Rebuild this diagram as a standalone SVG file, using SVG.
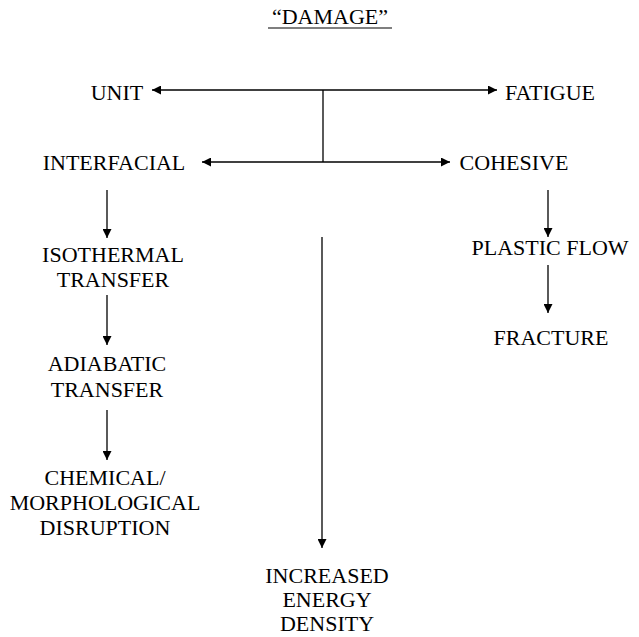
<svg xmlns="http://www.w3.org/2000/svg" width="639" height="637" viewBox="0 0 639 637">
<style>
text{font-family:"Liberation Serif","Times New Roman",serif;font-size:22px;fill:#000;text-anchor:middle}
.c line{stroke:#000;stroke-width:1.3;fill:none}
</style>
<defs>
<marker id="ah" viewBox="0 0 10 10" refX="10" refY="5" markerWidth="10" markerHeight="9" markerUnits="userSpaceOnUse" orient="auto">
<path d="M0,0 L10,5 L0,10 Z" fill="#000"/>
</marker>
<marker id="as" viewBox="0 0 10 10" refX="0" refY="5" markerWidth="10" markerHeight="9" markerUnits="userSpaceOnUse" orient="auto">
<path d="M10,0 L0,5 L10,10 Z" fill="#000"/>
</marker>
</defs>
<rect width="639" height="637" fill="#fff"/>
<g id="title"><text x="330" y="24">“DAMAGE”</text><line x1="268" y1="28" x2="392" y2="28" stroke="#000" stroke-width="1.2"/></g>
<g id="unit"><text x="117" y="100">UNIT</text></g>
<g id="fatigue"><text x="550" y="100">FATIGUE</text></g>
<g id="interfacial"><text x="114" y="170">INTERFACIAL</text></g>
<g id="cohesive"><text x="514" y="170">COHESIVE</text></g>
<g id="isothermal"><text x="113" y="262">ISOTHERMAL</text><text x="113" y="287">TRANSFER</text></g>
<g id="adiabatic"><text x="107" y="371">ADIABATIC</text><text x="107" y="397">TRANSFER</text></g>
<g id="chemical"><text x="105" y="485">CHEMICAL/</text><text x="105" y="510">MORPHOLOGICAL</text><text x="105" y="535">DISRUPTION</text></g>
<g id="plastic"><text x="550" y="255">PLASTIC FLOW</text></g>
<g id="fracture"><text x="551" y="345">FRACTURE</text></g>
<g id="energy"><text x="327" y="583">INCREASED</text><text x="327" y="607">ENERGY</text><text x="327" y="631">DENSITY</text></g>
<g class="c" id="connectors">
<line x1="152" y1="90" x2="497" y2="90" marker-start="url(#as)" marker-end="url(#ah)"/>
<line x1="323" y1="90" x2="323" y2="162"/>
<line x1="202" y1="162" x2="450" y2="162" marker-start="url(#as)" marker-end="url(#ah)"/>
<line x1="107" y1="190" x2="107" y2="238" marker-end="url(#ah)"/>
<line x1="107" y1="295" x2="107" y2="345" marker-end="url(#ah)"/>
<line x1="107" y1="410" x2="107" y2="460" marker-end="url(#ah)"/>
<line x1="322" y1="237" x2="322" y2="548" marker-end="url(#ah)"/>
<line x1="548" y1="190" x2="548" y2="237" marker-end="url(#ah)"/>
<line x1="548" y1="265" x2="548" y2="313" marker-end="url(#ah)"/>
</g>
</svg>
